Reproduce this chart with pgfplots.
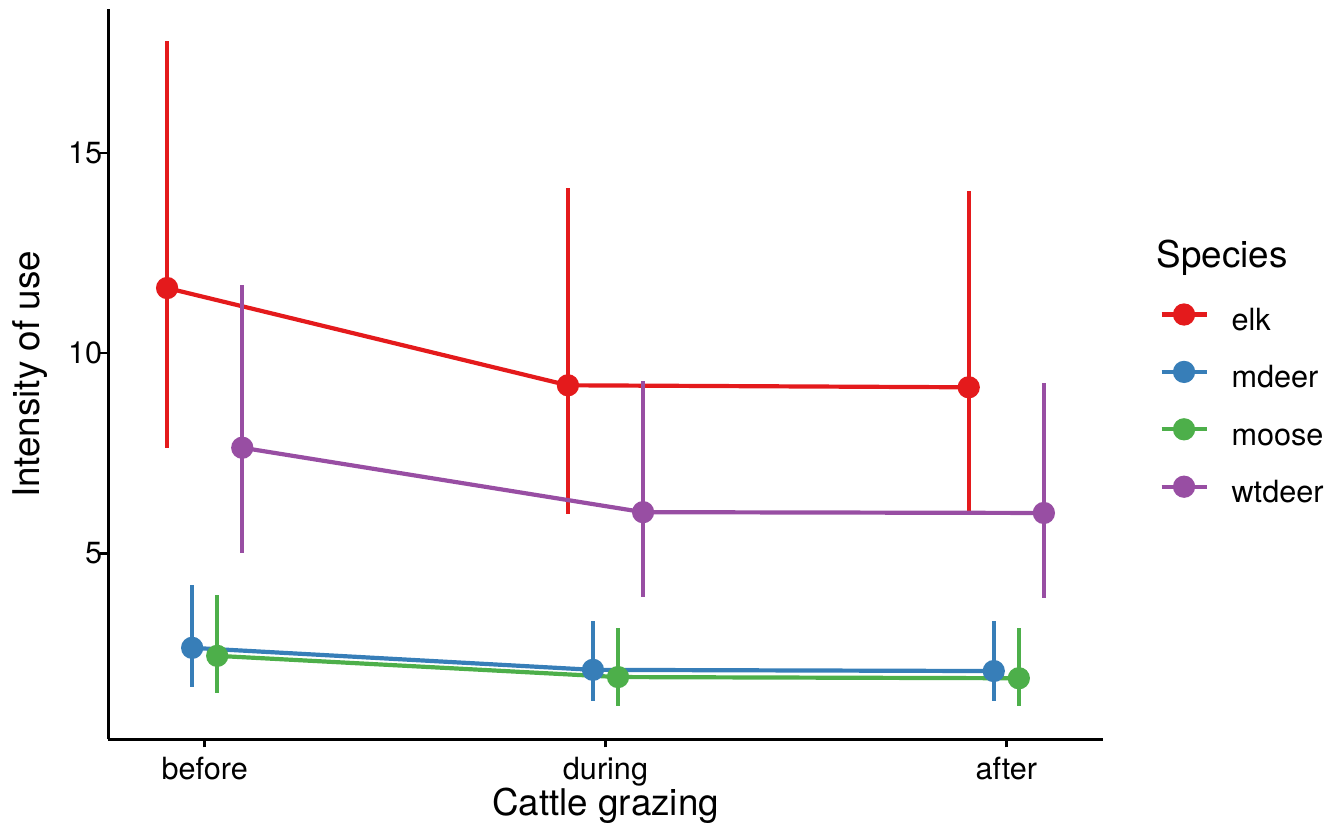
\documentclass[border=0pt]{standalone}
\usepackage{pgfplots}
\pgfplotsset{compat=1.18}
\usepackage{pgfplotstable}
\usepackage{fontspec}
\setmainfont{TeX Gyre Heros}

\definecolor{elk}{HTML}{E41A1C}
\definecolor{mdeer}{HTML}{377EB8}
\definecolor{moose}{HTML}{4DAF4A}
\definecolor{wtdeer}{HTML}{984EA3}

% x = category position + dodge offset; lo/hi = error bar ends
\pgfplotstableread{
x y lo hi
0.90625 11.63 7.64 17.81
1.90625 9.20 5.98 14.12
2.90625 9.15 5.98 14.05
}\elk
\pgfplotstableread{
x y lo hi
0.96875 2.64 1.66 4.22
1.96875 2.09 1.31 3.32
2.96875 2.06 1.31 3.32
}\mdeer
\pgfplotstableread{
x y lo hi
1.03125 2.44 1.51 3.97
2.03125 1.91 1.18 3.14
3.03125 1.88 1.18 3.14
}\moose
\pgfplotstableread{
x y lo hi
1.09375 7.64 5.00 11.71
2.09375 6.03 3.92 9.30
3.09375 6.01 3.89 9.25
}\wtdeer

\pgfplotsset{
  species/.style={
    color=#1, line width=2.1pt, mark=*, mark size=4.5pt, mark options={solid},
    error bars/.cd, y dir=both, y explicit, error mark=none,
    error bar style={line width=2.1pt}
  }
}

\begin{document}
\begin{tikzpicture}
\begin{axis}[
  scale only axis,
  width=497pt, height=365pt,
  xmin=0.76, xmax=3.24,
  ymin=0.35, ymax=18.59,
  clip=false,
  axis lines*=left,
  axis line style={line width=1.2pt},
  xtick={1,2,3},
  xticklabels={before,during,after},
  ytick={5,10,15},
  tick align=outside,
  major tick length=4pt,
  tick style={line width=1.2pt, black},
  /pgf/number format/assume math mode=true,
  ticklabel style={font=\fontsize{15.3}{18}\selectfont, inner sep=0pt},
  xticklabel style={anchor=base, yshift=-16pt},
  yticklabel style={anchor=east, xshift=1pt},
  xlabel={Cattle grazing},
  ylabel={Intensity of use},
  label style={font=\fontsize{18.4}{22}\selectfont, inner sep=0pt},
  xlabel style={at={(axis description cs:0.5,0)}, anchor=base, yshift=-38.25pt},
  ylabel style={at={(axis description cs:-0.061,0.5)}, anchor=south},
  legend cell align=left,
  legend image code/.code={
    \draw[mark repeat=2, mark phase=2, #1]
      plot coordinates {(0pt,4pt) (11.25pt,4pt) (22.5pt,4pt)};
  },
  legend style={
    at={(axis description cs:1.0573,0.5945)}, anchor=north west,
    draw=none, fill=none, inner sep=0pt, outer sep=0pt,
    row sep=13.2pt, column sep=11.5pt,
    font=\fontsize{15.3}{18}\selectfont,
    nodes={inner sep=0pt, text height=11pt, text depth=3pt}
  },
]
\addplot[species=elk] table[x=x, y=y,
  y error plus expr=\thisrow{hi}-\thisrow{y},
  y error minus expr=\thisrow{y}-\thisrow{lo}] {\elk};
\addlegendentry{elk}
\addplot[species=mdeer] table[x=x, y=y,
  y error plus expr=\thisrow{hi}-\thisrow{y},
  y error minus expr=\thisrow{y}-\thisrow{lo}] {\mdeer};
\addlegendentry{mdeer}
\addplot[species=moose] table[x=x, y=y,
  y error plus expr=\thisrow{hi}-\thisrow{y},
  y error minus expr=\thisrow{y}-\thisrow{lo}] {\moose};
\addlegendentry{moose}
\addplot[species=wtdeer] table[x=x, y=y,
  y error plus expr=\thisrow{hi}-\thisrow{y},
  y error minus expr=\thisrow{y}-\thisrow{lo}] {\wtdeer};
\addlegendentry{wtdeer}
\node[anchor=base west, inner sep=0pt, font=\fontsize{18.4}{22}\selectfont]
  at (axis description cs:1.0543,0.6466) {Species};
\end{axis}
\path (current axis.south west) ++(-54.25pt,-44.25pt) rectangle ++(670pt,414pt);
\end{tikzpicture}
\end{document}
